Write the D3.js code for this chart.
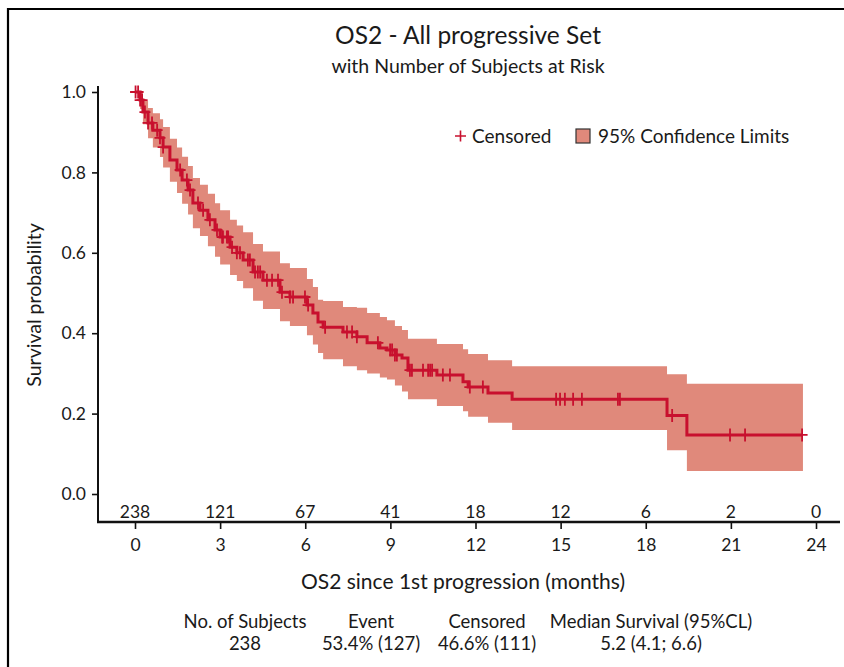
<!DOCTYPE html>
<html><head><meta charset="utf-8">
<script src="https://cdn.jsdelivr.net/npm/d3@7"></script>
<style>
body{margin:0;background:#fff;}
svg{display:block;}
text{font-family:Lato,"Open Sans",sans-serif;fill:#1a1a1a;}
</style></head>
<body><svg id="c" width="844" height="667"></svg>
<script>
// ---- data ----
const stepTimes = [0,0.18,0.28,0.46,0.63,0.88,0.99,1.23,1.48,1.66,1.87,2.04,2.29,2.57,2.82,3.00,3.35,3.59,3.81,4.16,4.51,5.11,5.46,6.06,6.27,6.45,6.63,7.33,7.82,8.18,8.63,8.88,9.16,9.41,9.62,10.64,11.56,11.74,12.44,13.29,18.75,19.45];
const survival  = [1.0,0.980,0.950,0.923,0.905,0.886,0.863,0.831,0.806,0.781,0.756,0.724,0.706,0.682,0.657,0.639,0.614,0.600,0.582,0.552,0.532,0.502,0.490,0.470,0.450,0.428,0.415,0.403,0.391,0.376,0.363,0.358,0.346,0.338,0.308,0.296,0.279,0.266,0.251,0.236,0.195,0.147];
const lowerCL   = [1.0,0.958,0.920,0.885,0.862,0.838,0.812,0.777,0.749,0.722,0.695,0.661,0.642,0.616,0.590,0.571,0.545,0.530,0.512,0.481,0.460,0.430,0.418,0.395,0.372,0.351,0.335,0.318,0.308,0.300,0.290,0.285,0.270,0.255,0.236,0.219,0.206,0.192,0.177,0.159,0.109,0.057];
const upperCL   = [1.0,0.997,0.978,0.960,0.947,0.932,0.913,0.884,0.862,0.839,0.816,0.786,0.769,0.747,0.723,0.706,0.682,0.668,0.651,0.622,0.603,0.574,0.562,0.535,0.515,0.483,0.480,0.465,0.463,0.450,0.440,0.432,0.418,0.408,0.386,0.373,0.360,0.348,0.333,0.318,0.298,0.274];
const lastTime = 23.54;
const censorTimes = [0.02,0.11,0.18,0.25,0.35,0.46,0.60,0.78,0.88,0.99,1.59,1.83,1.94,2.22,2.40,2.64,2.89,3.07,3.10,3.24,3.28,3.42,3.59,3.70,3.98,4.05,4.23,4.33,4.41,4.65,4.83,5.04,5.18,5.46,5.57,5.99,6.10,6.70,7.47,7.65,7.82,8.56,8.99,9.06,9.16,9.23,9.69,9.76,10.15,10.33,10.40,10.47,10.85,11.10,11.80,12.26,14.84,14.98,15.15,15.44,15.75,17.02,17.09,18.93,20.97,21.50,23.51];
const riskTimes = [0,3,6,9,12,15,18,21,24];
const atRisk    = [238,121,67,41,18,12,6,2,0];
const xTicks = [0,3,6,9,12,15,18,21,24];
const yTicks = [0.0,0.2,0.4,0.6,0.8,1.0];
const statHeads = ["No. of Subjects","Event","Censored","Median Survival (95%CL)"];
const statVals  = ["238","53.4% (127)","46.6% (111)","5.2 (4.1; 6.6)"];

const lineCol = "#c8102e", bandCol = "#e0897b";
const svg = d3.select("#c");

// frame
svg.append("path").attr("d","M8,667V9H844").attr("fill","none").attr("stroke","#000").attr("stroke-width",2.2);

const x = d3.scaleLinear().domain([0,24]).range([135,816]);
const y = d3.scaleLinear().domain([0,1]).range([494,92]);

// title
svg.append("text").attr("x",468).attr("y",44).attr("text-anchor","middle").attr("font-size",24.5).text("OS2 - All progressive Set");
svg.append("text").attr("x",468).attr("y",73).attr("text-anchor","middle").attr("font-size",19.5).text("with Number of Subjects at Risk");

const rows = stepTimes.map((t,i)=>({t, s:survival[i], lo:lowerCL[i], up:upperCL[i]}));
const rowsEnd = rows.concat([{t:lastTime, s:survival[survival.length-1], lo:lowerCL[lowerCL.length-1], up:upperCL[upperCL.length-1]}]);

// band
svg.append("path").datum(rowsEnd)
  .attr("d", d3.area().curve(d3.curveStepAfter).x(d=>x(d.t)).y0(d=>y(d.lo)).y1(d=>y(d.up)))
  .attr("fill", bandCol);

// curve
svg.append("path").datum(rowsEnd)
  .attr("d", d3.line().curve(d3.curveStepAfter).x(d=>x(d.t)).y(d=>y(d.s)))
  .attr("fill","none").attr("stroke",lineCol).attr("stroke-width",3);

// censor marks
const survAt = t => { let s=1; for (let i=0;i<stepTimes.length;i++){ if (stepTimes[i]<=t) s=survival[i]; } return s; };
svg.append("g").selectAll("path").data(censorTimes).join("path")
  .attr("d", t=>{const cx=x(t), cy=y(survAt(t)); return `M${cx-5.5},${cy}H${cx+5.5}M${cx},${cy-6.5}V${cy+6.5}`;})
  .attr("stroke",lineCol).attr("stroke-width",1.8).attr("fill","none");

// axes
const yAxis = svg.append("g").attr("transform","translate(98,0)")
  .call(d3.axisLeft(y).tickValues(yTicks).tickFormat(d3.format(".1f")).tickSize(6).tickPadding(6));
yAxis.select(".domain").attr("d","M0,86V523").attr("stroke","#111").attr("stroke-width",2);
yAxis.selectAll(".tick line").attr("stroke","#111").attr("stroke-width",1.6);
yAxis.selectAll("text").attr("font-size",17.5).attr("fill","#1a1a1a").attr("font-family","Lato");

const xAxis = svg.append("g").attr("transform","translate(0,522)")
  .call(d3.axisBottom(x).tickValues(xTicks).tickSize(7).tickPadding(10));
xAxis.select(".domain").attr("d","M97,0H840").attr("stroke","#111").attr("stroke-width",2.4);
xAxis.selectAll(".tick line").attr("stroke","#111").attr("stroke-width",1.6);
xAxis.selectAll("text").attr("font-size",17.5).attr("fill","#1a1a1a").attr("font-family","Lato");

// at risk
svg.append("g").selectAll("text").data(riskTimes).join("text")
  .attr("x",d=>x(d)).attr("y",518).attr("text-anchor","middle").attr("font-size",17.5)
  .text((d,i)=>atRisk[i]);

// axis titles
svg.append("text").attr("x",463).attr("y",589).attr("text-anchor","middle").attr("font-size",21)
  .text("OS2 since 1st progression (months)");
svg.append("text").attr("transform","translate(41,305) rotate(-90)").attr("text-anchor","middle").attr("font-size",19.5)
  .text("Survival probability");

// legend
const lg = svg.append("g");
lg.append("path").attr("d","M455,136H466M460.5,130.5V141.5").attr("stroke",lineCol).attr("stroke-width",1.6);
lg.append("text").attr("x",472).attr("y",143).attr("font-size",19).text("Censored");
lg.append("rect").attr("x",576).attr("y",129).attr("width",14).attr("height",14).attr("fill",bandCol).attr("stroke","#333").attr("stroke-width",1.2);
lg.append("text").attr("x",598).attr("y",143).attr("font-size",19).text("95% Confidence Limits");

// stats
const cols = [245,371,487,651];
svg.append("g").selectAll("text").data(statHeads).join("text")
  .attr("x",(d,i)=>cols[i]).attr("y",628).attr("text-anchor","middle").attr("font-size",18.5).text(d=>d);
svg.append("g").selectAll("text").data(statVals).join("text")
  .attr("x",(d,i)=>cols[i]).attr("y",650).attr("text-anchor","middle").attr("font-size",18.5).text(d=>d);
</script></body></html>
